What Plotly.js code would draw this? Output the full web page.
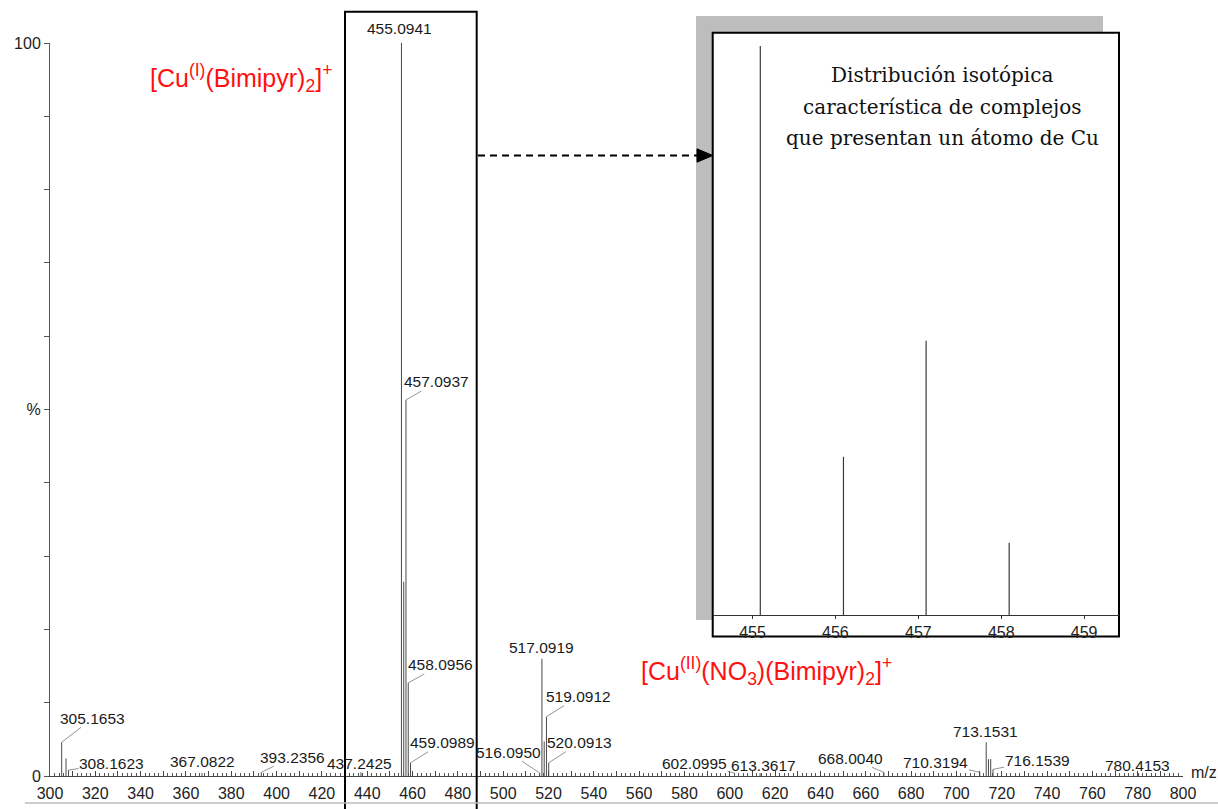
<!DOCTYPE html>
<html>
<head>
<meta charset="utf-8">
<script src="https://cdn.plot.ly/plotly-3.0.1.min.js"></script>
<style>html,body{margin:0;padding:0;background:#fff;}#chart{width:1218px;height:809px;}</style>
</head>
<body>
<div id="chart"></div>
<script>
// ---------- data ----------
const peakMz = [305.1653, 307.06, 308.1623, 367.0822, 393.2356, 437.2425, 455.0941, 456.097, 457.0937, 458.0956, 459.0989,
                516.0950, 517.0919, 518.09, 519.0912, 520.0913, 602.0995, 613.3617, 668.0040, 710.3194, 713.1531, 714.15, 715.15, 716.1539, 780.4153];
const peakIntensity = [4.6, 2.4, 0.8, 0.4, 0.5, 0.5, 100, 26.5, 51.3, 12.7, 1.8,
                       0.4, 16.0, 4.7, 8.1, 1.8, 0.4, 0.4, 0.5, 0.5, 4.6, 2.3, 2.3, 0.9, 0.4];

const labelledMz = [305.1653, 308.1623, 367.0822, 393.2356, 437.2425, 455.0941, 457.0937, 458.0956, 459.0989,
                    516.0950, 517.0919, 519.0912, 520.0913, 602.0995, 613.3617, 668.0040, 710.3194, 713.1531, 716.1539, 780.4153];
const labelledIntensity = [4.6, 0.8, 0.4, 0.5, 0.5, 100, 51.3, 12.7, 1.8,
                           0.4, 16.0, 8.1, 1.8, 0.4, 0.4, 0.5, 0.5, 4.6, 0.9, 0.4];
const labelText = ['305.1653','308.1623','367.0822','393.2356','437.2425','455.0941','457.0937','458.0956','459.0989',
                   '516.0950','517.0919','519.0912','520.0913','602.0995','613.3617','668.0040','710.3194','713.1531','716.1539','780.4153'];

const insetMz = [455.0941, 456.097, 457.0937, 458.0956];
const insetIntensity = [100, 27.8, 48.2, 12.7];

const xTickVals = [300,310,320,330,340,350,360,370,380,390,400,410,420,430,440,450,460,470,480,490,500,510,520,530,540,550,
                   560,570,580,590,600,610,620,630,640,650,660,670,680,690,700,710,720,730,740,750,760,770,780,790,800];
const xTickText = ['300','','320','','340','','360','','380','','400','','420','','440','','460','','480','','500','','520','','540','',
                   '560','','580','','600','','620','','640','','660','','680','','700','','720','','740','','760','','780','','800'];
const yTickVals = [0,10,20,30,40,50,60,70,80,90,100];
const yTickText = ['0','','','','','%','','','','','100'];
const insetTickVals = [455,456,457,458,459];
const insetTickText = ['455','456','457','458','459'];

const insetCaption = ['Distribución isotópica', 'característica de complejos', 'que presentan un átomo de Cu'];
const speciesLabels = ['[Cu<sup>(I)</sup>(Bimipyr)<sub>2</sub>]<sup>+</sup>',
                       '[Cu<sup>(II)</sup>(NO<sub>3</sub>)(Bimipyr)<sub>2</sub>]<sup>+</sup>'];

// ---------- label placement (pixel offsets from peak top) ----------
const labelDx = [31, 43, 0, 31, -1, -2, 31, 32, 32, -31, 0, 32, 31, -40, 3, -33, -44, -1, 44, -1];
const labelDy = [-24, -7, -12, -15, -9, -15, -18, -18, -20, -21, -11, -20, -20, -10, -8, -14, -10, -11, -9, -8];
const labelLeader = [1,1,0,1,0,0,1,1,1,1,0,1,1,1,0,1,1,0,1,0];

// ---------- helpers for paper positions ----------
const PL = 50, PW = 1133, PB = 776, PH = 733;
const X = px => (px - PL) / PW;
const Y = py => (PB - py) / PH;

function sticks(xs, ys) {
  const sx = [], sy = [];
  xs.forEach((m, i) => { sx.push(m, m, null); sy.push(0, ys[i], null); });
  return {x: sx, y: sy};
}

const main = sticks(peakMz, peakIntensity);
const ins = sticks(insetMz, insetIntensity);

const traces = [
  {x: main.x, y: main.y, type: 'scatter', mode: 'lines', line: {color: '#4a4a4a', width: 1}, hoverinfo: 'skip', xaxis: 'x', yaxis: 'y'},
  {x: ins.x, y: ins.y, type: 'scatter', mode: 'lines', line: {color: '#3a3a3a', width: 1.2}, hoverinfo: 'skip', xaxis: 'x2', yaxis: 'y2'}
];

const annotations = [];
labelledMz.forEach((m, i) => {
  const a = {x: m, y: labelledIntensity[i], xref: 'x', yref: 'y', text: labelText[i],
             font: {family: 'Liberation Sans, Arial, sans-serif', size: 15.5, color: '#1a1a1a'}};
  if (labelLeader[i]) {
    Object.assign(a, {showarrow: true, ax: labelDx[i], ay: labelDy[i], arrowhead: 0, arrowwidth: 0.8,
                      arrowcolor: '#777', standoff: 0, startstandoff: 0, borderpad: 0});
  } else {
    Object.assign(a, {showarrow: false, xshift: labelDx[i], yshift: -labelDy[i], xanchor: 'center', yanchor: 'middle'});
  }
  annotations.push(a);
});

// m/z axis label
annotations.push({x: 800, y: 0, xref: 'x', yref: 'y', text: 'm/z', showarrow: false, xanchor: 'left', yanchor: 'middle',
                  xshift: 6, yshift: 4, font: {family: 'Liberation Sans, Arial, sans-serif', size: 16, color: '#222'}});

// inset caption lines
const captionY = [75, 106.5, 138];
insetCaption.forEach((t, i) => {
  annotations.push({x: X(942), y: Y(captionY[i]), xref: 'paper', yref: 'paper', text: t, showarrow: false,
                    xanchor: 'center', yanchor: 'middle', font: {family: 'DejaVu Serif, serif', size: 20, color: '#111'}});
});

// red species labels
const speciesPos = [[241, 78], [766, 671]];
speciesLabels.forEach((t, i) => {
  annotations.push({x: X(speciesPos[i][0]), y: Y(speciesPos[i][1]), xref: 'paper', yref: 'paper', text: t, showarrow: false,
                    xanchor: 'center', yanchor: 'middle', font: {family: 'Liberation Sans, Arial, sans-serif', size: 25, color: '#ff1010'}});
});

const shapes = [
  // inset shadow
  {type: 'rect', xref: 'paper', yref: 'paper', x0: X(696), x1: X(1103), y0: Y(620), y1: Y(16),
   fillcolor: '#bdbdbd', line: {width: 0}, layer: 'below'},
  // inset box
  {type: 'rect', xref: 'paper', yref: 'paper', x0: X(712.7), x1: X(1119), y0: Y(636.5), y1: Y(32.7),
   fillcolor: '#ffffff', line: {color: '#000', width: 2}, layer: 'below'},
  // highlight rectangle around the Cu cluster
  {type: 'rect', xref: 'paper', yref: 'paper', x0: X(345), x1: X(476.7), y0: Y(830), y1: Y(11.7),
   line: {color: '#000', width: 2}, layer: 'above'},
  // dashed arrow shaft
  {type: 'line', xref: 'paper', yref: 'paper', x0: X(478), x1: X(698), y0: Y(155.5), y1: Y(155.5),
   line: {color: '#000', width: 2, dash: '7px,5px'}, layer: 'above'},
  // arrow head
  {type: 'path', xref: 'paper', yref: 'paper',
   path: 'M ' + X(697) + ' ' + Y(148.8) + ' L ' + X(712.7) + ' ' + Y(155.5) + ' L ' + X(697) + ' ' + Y(162.2) + ' Z',
   fillcolor: '#000', line: {color: '#000', width: 1}, layer: 'above'},
  // scan edge line at bottom
  {type: 'line', xref: 'paper', yref: 'paper', x0: X(25), x1: X(1218), y0: Y(803), y1: Y(803),
   line: {color: '#bbbbbb', width: 1.5}, layer: 'above'}
];

const layout = {
  width: 1218, height: 809,
  margin: {l: PL, r: 1218 - PL - PW, t: PB - PH, b: 809 - PB, pad: 0},
  paper_bgcolor: '#ffffff', plot_bgcolor: 'rgba(0,0,0,0)',
  showlegend: false,
  font: {family: 'Liberation Sans, Arial, sans-serif', size: 15, color: '#222'},
  xaxis: {range: [300, 800], domain: [0, 1], anchor: 'y', showline: true, linecolor: '#444', linewidth: 1,
          ticks: 'inside', ticklen: 5, tickcolor: '#444', tickwidth: 1,
          tickmode: 'array', tickvals: xTickVals, ticktext: xTickText,
          tickfont: {size: 16, color: '#222'}, showgrid: false, zeroline: false, ticklabelstandoff: 3,
          minor: {ticks: 'inside', ticklen: 3, tick0: 300, dtick: 2, tickcolor: '#555', showgrid: false}},
  yaxis: {range: [0, 100], domain: [0, 1], anchor: 'x', showline: true, linecolor: '#555', linewidth: 1,
          ticks: 'outside', ticklen: 5, tickcolor: '#555', tickmode: 'array', tickvals: yTickVals, ticktext: yTickText,
          tickfont: {size: 16, color: '#222'}, showgrid: false, zeroline: false},
  xaxis2: {domain: [X(712.7), X(1119)], anchor: 'y2', range: [454.52, 459.42], showline: true, linecolor: '#333', linewidth: 1,
           ticks: 'outside', ticklen: 3, tickcolor: '#333', tickmode: 'array', tickvals: insetTickVals, ticktext: insetTickText,
           tickfont: {size: 16, color: '#222'}, showgrid: false, zeroline: false},
  yaxis2: {domain: [Y(615), Y(46)], anchor: 'x2', range: [0, 100], visible: false, showgrid: false, zeroline: false},
  shapes: shapes,
  annotations: annotations
};

Plotly.newPlot('chart', traces, layout, {displayModeBar: false, staticPlot: true});
</script>
</body>
</html>
